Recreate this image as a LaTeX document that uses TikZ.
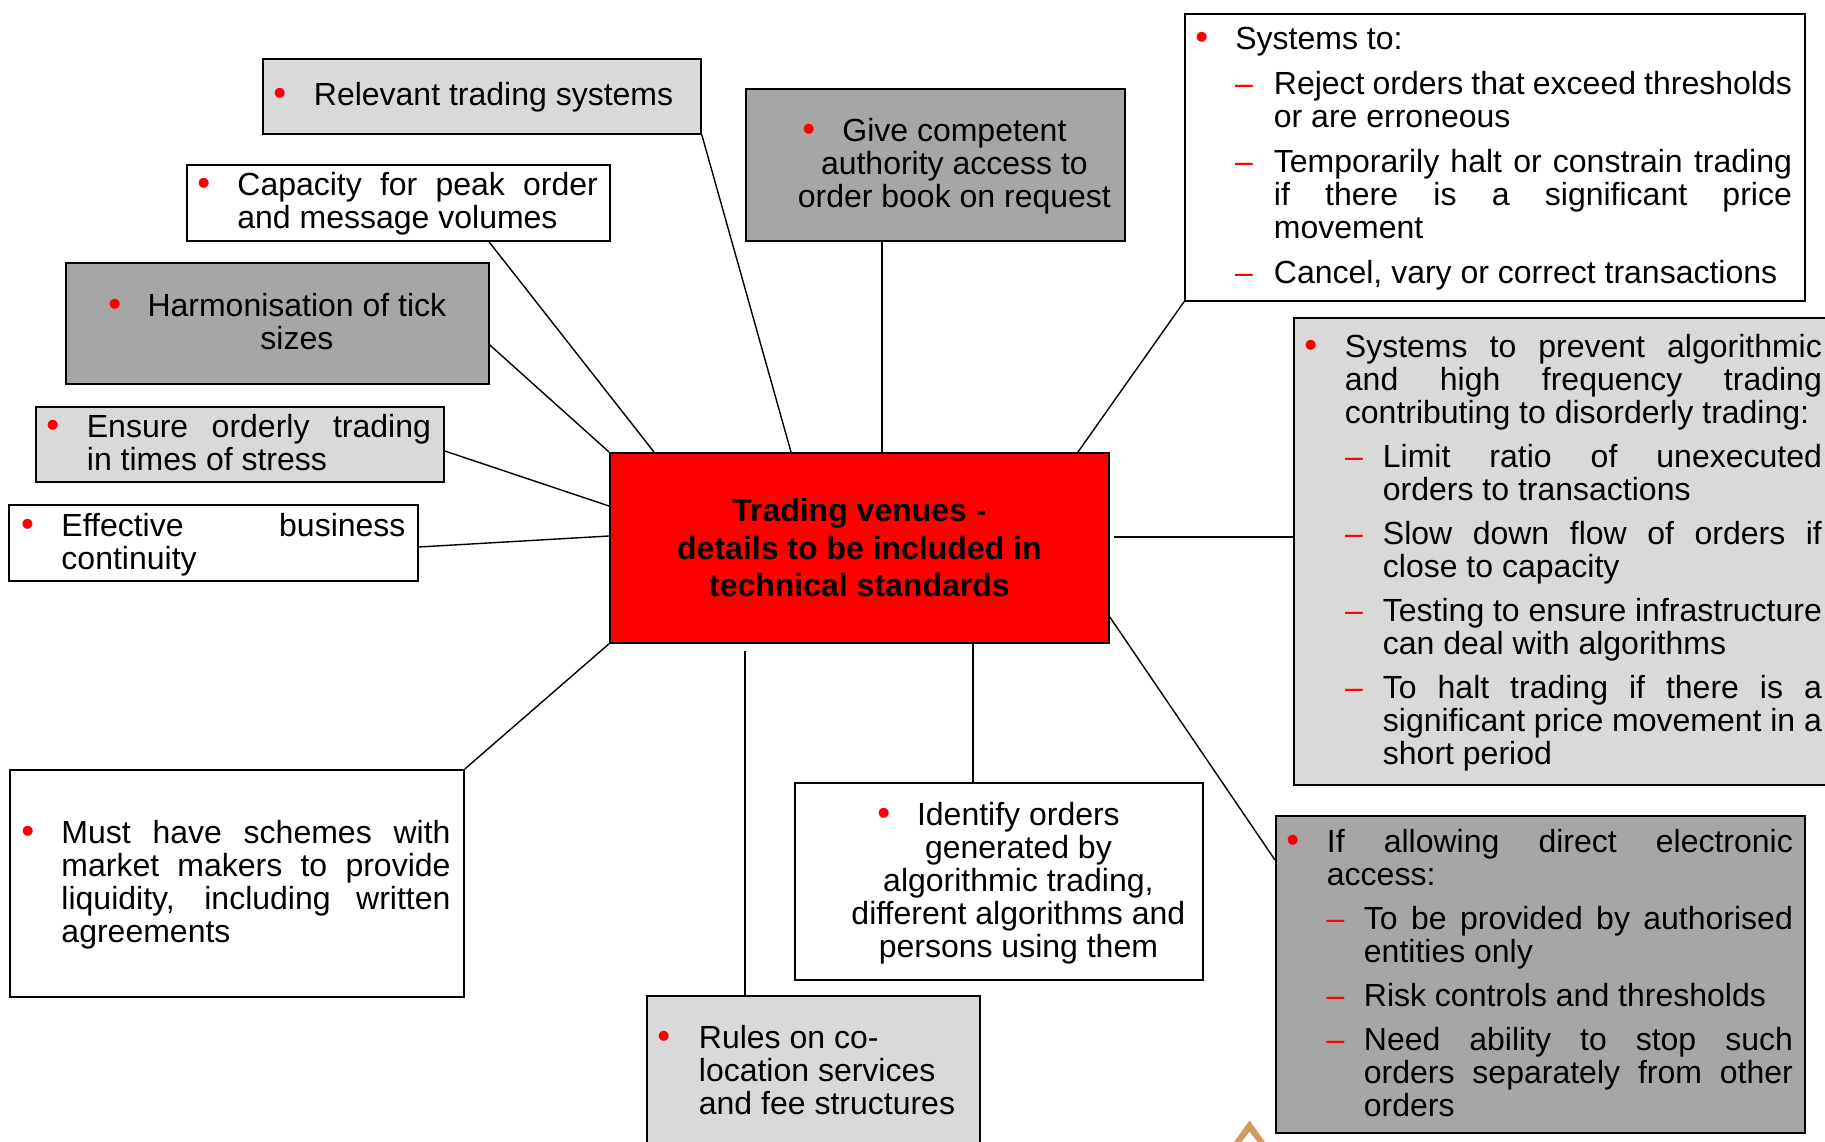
\documentclass[tikz,border=0pt]{standalone}
\usepackage{fontspec}
\setmainfont{Liberation Sans}
\usepackage{graphicx}
\definecolor{lgray}{HTML}{D9D9D9}
\definecolor{dgray}{HTML}{A6A6A6}
\definecolor{chevtan}{RGB}{210,155,95}
\setlength{\lineskiplimit}{-60pt}
\newcommand\mybul{\textcolor{red}{\scalebox{1.15}{•}}}
\newcommand\mydash{\textcolor{red}{–}}
\newcommand\Pt[2]{\rlap{\hskip#1pt\relax#2}}
\newcommand\Ct[2]{\rlap{\hskip#1pt\relax\makebox[0pt]{#2}}}
\newcommand\Cb[1]{\Ct{#1}{\mybul}}
\newcommand\Cd[1]{\Ct{#1}{\mydash}}
\newcommand\Jt[2]{\makebox[#1pt][s]{#2}}
\newcommand\mystrut{\rule[-6.9pt]{0pt}{33pt}}
\newcommand\Ln[1]{\noindent\mystrut#1\par}
\newcommand\Gap[1]{\vspace{#1pt}}
\tikzset{
  box/.style={draw=black, line width=1.8pt, inner sep=0pt, rectangle, anchor=north west,
    font=\fontsize{32}{33}\selectfont},
  conn/.style={draw=black, line width=1.4pt}
}
\begin{document}
\begin{tikzpicture}[x=1pt,y=-1pt]
\useasboundingbox (0,0) rectangle (1825,1142);
\clip (0,0) rectangle (1825,1142);
\fill[white] (0,0) rectangle (1825,1142);

\node[box, fill=lgray, minimum width=438pt, minimum height=75pt] (rel) at (262,58)
 {\parbox{438pt}{\Ln{\Cb{17}\Pt{51}{Relevant trading systems}}}};

\node[box, fill=white, minimum width=423pt, minimum height=76pt] (cap) at (186,164)
 {\parbox{423pt}{%
 \Ln{\Cb{17}\Pt{50.5}{\Jt{360.5}{Capacity for peak order}}}
 \Ln{\Pt{50.5}{and message volumes}}}};

\node[box, fill=dgray, minimum width=423pt, minimum height=121pt] (harm) at (65,262)
 {\parbox{423pt}{%
 \Ln{\Cb{49}\Ct{231}{Harmonisation of tick}}
 \Ln{\Ct{231}{sizes}}}};

\node[box, fill=lgray, minimum width=408pt, minimum height=75pt] (ens) at (35,406)
 {\parbox{408pt}{%
 \Ln{\Cb{17}\Pt{51}{\Jt{344}{Ensure orderly trading}}}
 \Ln{\Pt{51}{in times of stress}}}};

\node[box, fill=white, minimum width=409pt, minimum height=76pt] (eff) at (8,504)
 {\parbox{409pt}{%
 \Ln{\Cb{18.6}\Pt{52.6}{\Jt{344}{Effective business}}}
 \Ln{\Pt{52.6}{continuity}}}};

\node[box, fill=red, minimum width=499pt, minimum height=190pt, align=center,
  font=\bfseries\fontsize{32}{37.5}\selectfont] (ctr) at (609,452)
 {Trading venues -\\details to be included in\\technical standards};

\node[box, fill=dgray, minimum width=379pt, minimum height=152pt] (give) at (745,88)
 {\parbox{379pt}{%
 \Ln{\Cb{63}\Ct{208.5}{Give competent}}
 \Ln{\Ct{208.5}{authority access to}}
 \Ln{\Ct{208.5}{order book on request}}}};

\node[box, fill=white, minimum width=620pt, minimum height=287pt] (sys) at (1184,13)
 {\parbox{620pt}{%
 \Ln{\Cb{17}\Pt{50.4}{Systems to:}}\Gap{12}
 \Ln{\Cd{59}\Pt{89}{\Jt{518}{Reject orders that exceed thresholds}}}
 \Ln{\Pt{89}{or are erroneous}}\Gap{12}
 \Ln{\Cd{59}\Pt{89}{\Jt{518}{Temporarily halt or constrain trading}}}
 \Ln{\Pt{89}{\Jt{518}{if there is a significant price}}}
 \Ln{\Pt{89}{movement}}\Gap{12}
 \Ln{\Cd{59}\Pt{89}{Cancel, vary or correct transactions}}}};

\node[box, fill=lgray, minimum width=543pt, minimum height=467pt] (prev) at (1293,317)
 {\parbox{543pt}{%
 \Ln{\Cb{17}\Pt{51}{\Jt{477}{Systems to prevent algorithmic}}}
 \Ln{\Pt{51}{\Jt{477}{and high frequency trading}}}
 \Ln{\Pt{51}{contributing to disorderly trading:}}\Gap{11}
 \Ln{\Cd{60}\Pt{89}{\Jt{439}{Limit ratio of unexecuted}}}
 \Ln{\Pt{89}{orders to transactions}}\Gap{11}
 \Ln{\Cd{60}\Pt{89}{\Jt{439}{Slow down flow of orders if}}}
 \Ln{\Pt{89}{close to capacity}}\Gap{11}
 \Ln{\Cd{60}\Pt{89}{\Jt{439}{Testing to ensure infrastructure}}}
 \Ln{\Pt{89}{can deal with algorithms}}\Gap{11}
 \Ln{\Cd{60}\Pt{89}{\Jt{439}{To halt trading if there is a}}}
 \Ln{\Pt{89}{\Jt{439}{significant price movement in a}}}
 \Ln{\Pt{89}{short period}}}};

\node[box, fill=dgray, minimum width=529pt, minimum height=317pt] (allow) at (1275,815)
 {\parbox{529pt}{%
 \Ln{\Cb{17}\Pt{51}{\Jt{466}{If allowing direct electronic}}}
 \Ln{\Pt{51}{access:}}\Gap{11}
 \Ln{\Cd{59.5}\Pt{88}{\Jt{429}{To be provided by authorised}}}
 \Ln{\Pt{88}{entities only}}\Gap{11}
 \Ln{\Cd{59.5}\Pt{88}{Risk controls and thresholds}}\Gap{11}
 \Ln{\Cd{59.5}\Pt{88}{\Jt{429}{Need ability to stop such}}}
 \Ln{\Pt{88}{\Jt{429}{orders separately from other}}}
 \Ln{\Pt{88}{orders}}}};

\node[box, fill=white, minimum width=408pt, minimum height=197pt] (ident) at (794,782)
 {\parbox{408pt}{%
 \Ln{\Cb{89}\Ct{223.5}{Identify orders}}
 \Ln{\Ct{223.5}{generated by}}
 \Ln{\Ct{223.5}{algorithmic trading,}}
 \Ln{\Ct{223.5}{different algorithms and}}
 \Ln{\Ct{223.5}{persons using them}}}};

\node[box, fill=lgray, minimum width=333pt, minimum height=151pt] (rules) at (646,995)
 {\parbox{333pt}{%
 \Ln{\Cb{17}\Pt{52}{Rules on co-}}
 \Ln{\Pt{52}{location services}}
 \Ln{\Pt{52}{and fee structures}}}};

\node[box, fill=white, minimum width=454pt, minimum height=227pt] (must) at (9,769)
 {\parbox{454pt}{%
 \Ln{\Cb{18}\Pt{51.6}{\Jt{389}{Must have schemes with}}}
 \Ln{\Pt{51.6}{\Jt{389}{market makers to provide}}}
 \Ln{\Pt{51.6}{\Jt{389}{liquidity, including written}}}
 \Ln{\Pt{51.6}{agreements}}}};

% connectors
\draw[conn] (rel.south east) -- ([xshift=182pt]ctr.north west);
\draw[conn] ([xshift=303pt]cap.south west) -- ([xshift=45pt]ctr.north west);
\draw[conn] ([yshift=-83pt]harm.north east) -- (ctr.north west);
\draw[conn] ([yshift=-45pt]ens.north east) -- ([yshift=-54pt]ctr.north west);
\draw[conn] ([yshift=-43pt]eff.north east) -- ([yshift=-84pt]ctr.north west);
\coordinate (gA) at ([xshift=137pt]give.south west);
\draw[conn] (gA) -- (gA |- ctr.north);
\draw[conn] (sys.south west) -- ([xshift=469pt]ctr.north west);
\coordinate (pA) at ([xshift=4pt,yshift=-85pt]ctr.north east);
\draw[conn] (pA) -- (pA -| prev.west);
\draw[conn] ([yshift=-165pt]ctr.north east) -- ([yshift=-45pt]allow.north west);
\coordinate (iA) at ([xshift=364pt]ctr.south west);
\draw[conn] (iA) -- (iA |- ident.north);
\coordinate (rA) at ([xshift=136pt,yshift=-7pt]ctr.south west);
\draw[conn] (rA) -- (rA |- rules.north);
\draw[conn] (must.north east) -- (ctr.south west);

% small chevron
\fill[chevtan] (1234,1142) -- (1249.5,1120.5) -- (1265,1142) -- (1257.5,1142)
  -- (1249.5,1131.5) -- (1241.5,1142) -- cycle;
\end{tikzpicture}
\end{document}
